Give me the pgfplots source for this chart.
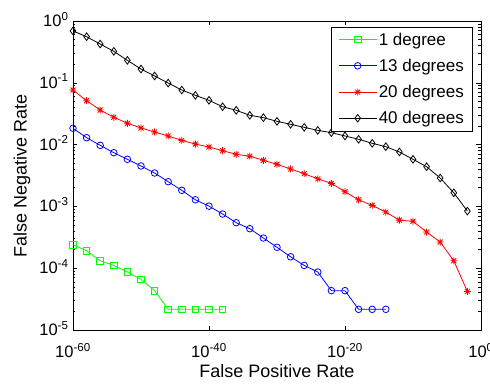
\documentclass[border=0pt]{standalone}
\usepackage{fontspec}
\setmainfont{Liberation Sans}
\usepackage{pgfplots}
\pgfplotsset{compat=1.18}
\pgfdeclareplotmark{mstar}{%
 \pgfpathmoveto{\pgfqpoint{-\pgfplotmarksize}{0pt}}\pgfpathlineto{\pgfqpoint{\pgfplotmarksize}{0pt}}%
 \pgfpathmoveto{\pgfqpoint{0pt}{-\pgfplotmarksize}}\pgfpathlineto{\pgfqpoint{0pt}{\pgfplotmarksize}}%
 \pgfpathmoveto{\pgfqpoint{-.707\pgfplotmarksize}{-.707\pgfplotmarksize}}\pgfpathlineto{\pgfqpoint{.707\pgfplotmarksize}{.707\pgfplotmarksize}}%
 \pgfpathmoveto{\pgfqpoint{-.707\pgfplotmarksize}{.707\pgfplotmarksize}}\pgfpathlineto{\pgfqpoint{.707\pgfplotmarksize}{-.707\pgfplotmarksize}}%
 \pgfusepathqstroke}
\newcommand{\tl}[1]{10\textsuperscript{#1}}
\pgfplotsset{every axis plot post/.append style={legend image code/.code={\draw[mark repeat=2,mark phase=2,##1] plot coordinates {(0pt,0pt) (19pt,0pt) (38pt,0pt)};}}}
\begin{document}
\begin{tikzpicture}
\begin{axis}[
  scale only axis, width=408pt, height=309pt,
  xmode=log, ymode=log,
  xmin=1e-60, xmax=1, ymin=1e-5, ymax=1,
  font=\fontsize{16.5}{19}\selectfont,
  axis line style={line width=0.9pt},
  xtick={1e-60,1e-40,1e-20,1},
  xticklabels={\tl{-60},\tl{-40},\tl{-20},\tl{0}},
  ytick={1e-5,1e-4,1e-3,1e-2,1e-1,1},
  yticklabels={\tl{-5},\tl{-4},\tl{-3},\tl{-2},\tl{-1},\tl{0}},
  xminorticks=false,
  tick align=inside,
  major tick length=4.5pt, minor tick length=2.5pt,
  tick style={line width=0.6pt, black},
  xticklabel style={anchor=base, yshift=-27.3pt},
  yticklabel style={anchor=base east, yshift=-5.4pt, xshift=-1pt},
  xlabel={False Positive Rate},
  ylabel={False Negative Rate},
  label style={font=\fontsize{18}{21}\selectfont},
  xlabel style={at={(axis description cs:0.5,-0.1545)}, anchor=base},
  ylabel style={at={(axis description cs:-0.1135,0.5)}, anchor=base},
  legend style={at={(rel axis cs:0.98,0.9816)}, anchor=north east,
    draw=black, line width=0.6pt, font=\fontsize{17}{19}\selectfont,
    inner xsep=7pt, inner ysep=4pt, row sep=9pt,
    nodes={inner sep=1.7pt}},
  legend cell align=left,
  every axis plot/.append style={line width=0.8pt, mark options={solid, line width=0.8pt}},
]
\coordinate (bl) at (rel axis cs:0,0);
\coordinate (tr) at (rel axis cs:1,1);
\addplot[color={rgb,1:red,0;green,1;blue,0}, mark=square, mark size=3.3pt] coordinates {
(1e-60,0.00024)(1e-58,0.000192)(1e-56,0.000132)(1e-54,0.000111)(1e-52,8.67e-5)(1e-50,6.6e-5)
(1e-48,4.33e-5)(1e-46,2.16e-5)(1e-44,2.16e-5)(1e-42,2.16e-5)(1e-40,2.16e-5)(1e-38,2.16e-5)};
\addlegendentry{1 degree}
\addplot[color=blue, mark=o, mark size=3.3pt] coordinates {
(1e-60,0.01836)(1e-58,0.01294)(1e-56,0.00973)(1e-54,0.0074)(1e-52,0.00578)(1e-50,0.00451)
(1e-48,0.00347)(1e-46,0.00251)(1e-44,0.00182)(1e-42,0.00128)(1e-40,0.00101)(1e-38,0.000753)
(1e-36,0.000545)(1e-34,0.000436)(1e-32,0.000308)(1e-30,0.000218)(1e-28,0.000153)(1e-26,0.000111)
(1e-24,8.67e-5)(1e-22,4.33e-5)(1e-20,4.33e-5)(1e-18,2.16e-5)(1e-16,2.16e-5)(1e-14,2.16e-5)};
\addlegendentry{13 degrees}
\addplot[color=red, mark=mstar, mark size=3.5pt] coordinates {
(1e-60,0.0764)(1e-58,0.0513)(1e-56,0.0363)(1e-54,0.0277)(1e-52,0.0221)(1e-50,0.0186)
(1e-48,0.016)(1e-46,0.0138)(1e-44,0.0117)(1e-42,0.0102)(1e-40,0.00914)(1e-38,0.00797)
(1e-36,0.00697)(1e-34,0.0065)(1e-32,0.00557)(1e-30,0.0048)(1e-28,0.00403)(1e-26,0.00338)
(1e-24,0.0028)(1e-22,0.00236)(1e-20,0.00173)(1e-18,0.00128)(1e-16,0.00104)(1e-14,0.00081)
(1e-12,0.0006)(1e-10,0.000574)(1e-8,0.000385)(1e-6,0.000265)(1e-4,0.000132)(1e-2,4.2e-5)};
\addlegendentry{20 degrees}
\addplot[color=black, mark=diamond, mark size=3.8pt] coordinates {
(1e-60,0.69)(1e-58,0.557)(1e-56,0.424)(1e-54,0.323)(1e-52,0.231)(1e-50,0.167)
(1e-48,0.129)(1e-46,0.099)(1e-44,0.0764)(1e-42,0.0627)(1e-40,0.052)(1e-38,0.041)
(1e-36,0.0359)(1e-34,0.0298)(1e-32,0.0273)(1e-30,0.0238)(1e-28,0.0213)(1e-26,0.019)
(1e-24,0.017)(1e-22,0.0156)(1e-20,0.0138)(1e-18,0.0122)(1e-16,0.0105)(1e-14,0.00925)
(1e-12,0.0076)(1e-10,0.00578)(1e-8,0.00439)(1e-6,0.00288)(1e-4,0.00166)(1e-2,0.00084)};
\addlegendentry{40 degrees}
\end{axis}
\pgfresetboundingbox
\path[use as bounding box] ([shift={(-73pt,-53pt)}]bl) rectangle ([shift={(9pt,21pt)}]tr);
\end{tikzpicture}
\end{document}
